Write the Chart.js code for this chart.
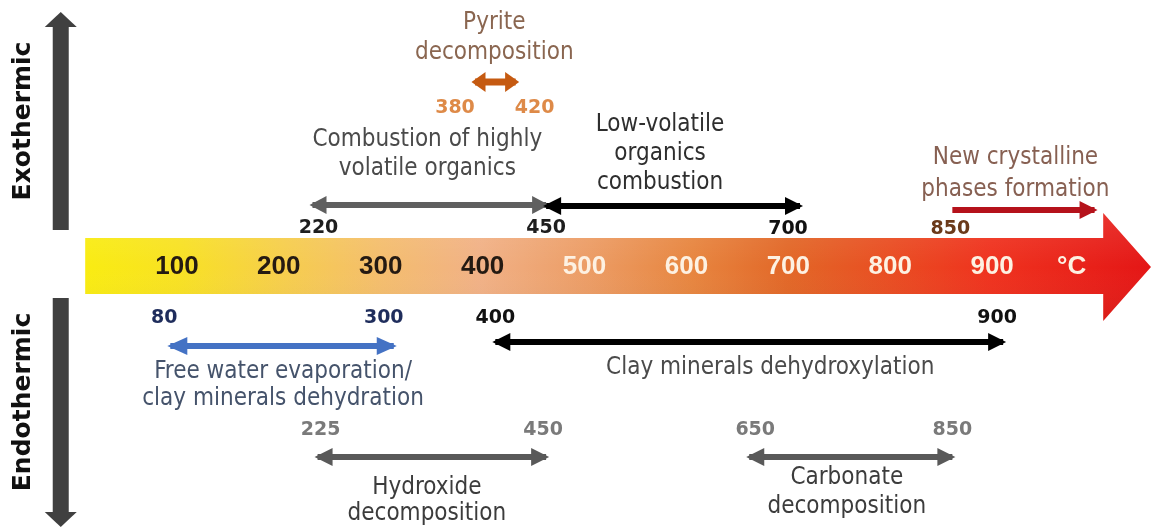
<!DOCTYPE html>
<html><head><meta charset="utf-8">
<script src="https://cdn.jsdelivr.net/npm/chart.js@4.4.1/dist/chart.umd.min.js"></script>
<style>html,body{margin:0;padding:0;background:#fff;}#wrap{width:1151px;height:529px;position:relative;}</style>
</head><body><div id="wrap"><canvas id="c"></canvas></div>
<script>
// ---------------- data ----------------
const scaleTicks = [100, 200, 300, 400, 500, 600, 700, 800, 900];
const scaleUnit = '°C';
const sideLabels = ['Exothermic', 'Endothermic'];
const eventNames = ['Pyrite decomposition', 'Combustion of highly volatile organics',
  'Low-volatile organics combustion', 'New crystalline phases formation',
  'Free water evaporation/ clay minerals dehydration', 'Clay minerals dehydroxylation',
  'Hydroxide decomposition', 'Carbonate decomposition'];
const eventLines = [['Pyrite', 'decomposition'], ['Combustion of highly', 'volatile organics'],
  ['Low-volatile', 'organics', 'combustion'], ['New crystalline', 'phases formation'],
  ['Free water evaporation/', 'clay minerals dehydration'], ['Clay minerals dehydroxylation'],
  ['Hydroxide', 'decomposition'], ['Carbonate', 'decomposition']];
const eventStart = [380, 220, 450, 850, 80, 400, 225, 650];
const eventEnd   = [420, 450, 700, 990, 300, 900, 450, 850];
const eventOpenEnded = [false, false, false, true, false, false, false, false];

// ---------------- layout / styles (not data) ----------------
const L = {
  rowY:    [82, 205, 206, 210, 346, 342, 457, 457],
  labelDy: [26, 23, 23, 19, -28, -24, -27, -27],
  startLabelDx: [-20, 6, 0, -2, -6, 0, 3, 6],
  endLabelDx:   [19, 0, -12, 0, -10, -6, -3, 0],
  textY:   [23, 140, 125, 158, 372, 368, 488, 478],
  textDx:  [-1, -2, -13, -8, 1, 21, -5, -4],
  lineH:   [30, 29, 29, 32, 27, 28, 26, 29],
  arrowColor: ['#c55a11', '#5f5f5f', '#000000', '#b5121b', '#4472c4', '#000000', '#595959', '#595959'],
  labelColor: ['#de8a48', '#1e1e1e', '#111111', '#6b3a1a', '#1f2d5c', '#111111', '#7a7a7a', '#7a7a7a'],
  textColor:  ['#8a6650', '#4a4a4a', '#2e2e2e', '#876052', '#45536b', '#4a4a4a', '#3c3c3c', '#3c3c3c'],
  shaft: [7, 6, 6, 6, 6, 6, 6, 6],
  headW: [10, 9, 9, 9, 9, 9, 9, 9],
  headL: [14, 17, 18, 18, 20, 18, 18, 18],
  band: { start: 10, bodyEnd: 1009, tip: 1056, top: 238, bottom: 294, headTop: 213, headBottom: 321, labelY: 267 },
  unitPos: 978,
  tickColors: ['#241a12', '#241a12', '#241a12', '#241a12', '#fdf1e2', '#fdf1e2', '#fdf1e2', '#fdf1e2', '#fdf1e2', '#fdf1e2'],
  side: { x: -14, shaftHalf: 8, headHalf: 16, headL: 15, textX: 23,
          up: { top: 12, bottom: 230, textY: 121 }, down: { top: 298, bottom: 527, textY: 402 } },
  descFont: '24px "DejaVu Sans Condensed", "DejaVu Sans", sans-serif',
  numFont: 'bold 19px "DejaVu Sans", sans-serif',
  tickFont: 'bold 26px "Liberation Sans", Arial, sans-serif',
  sideFont: 'bold 25px "DejaVu Sans", sans-serif'
};

const datasets = eventNames.map((name, i) => ({
  label: name,
  xAxisID: 'x2',
  yAxisID: 'y',
  data: [{ x: eventStart[i], y: L.rowY[i] }, { x: eventEnd[i], y: L.rowY[i] }],
  borderColor: L.arrowColor[i],
  borderWidth: L.shaft[i],
  borderCapStyle: 'butt',
  pointRadius: 0,
  fill: false,
  tension: 0
}));

function head(ctx, tipX, y, dir, len, half, color) {
  ctx.beginPath();
  ctx.moveTo(tipX, y);
  ctx.lineTo(tipX - dir * len, y - half);
  ctx.lineTo(tipX - dir * len, y + half);
  ctx.closePath();
  ctx.fillStyle = color;
  ctx.fill();
}

const diagramPlugin = {
  id: 'diagram',
  beforeDatasetsDraw(chart) {
    const ctx = chart.ctx, xs = chart.scales.x, ys = chart.scales.y, b = L.band;
    const x0 = xs.getPixelForValue(b.start), x1 = xs.getPixelForValue(b.bodyEnd), x2 = xs.getPixelForValue(b.tip);
    const yT = ys.getPixelForValue(b.top), yB = ys.getPixelForValue(b.bottom);
    const hT = ys.getPixelForValue(b.headTop), hB = ys.getPixelForValue(b.headBottom);
    const yM = ys.getPixelForValue(b.labelY);
    ctx.save();
    ctx.beginPath();
    ctx.moveTo(x0, yT); ctx.lineTo(x1, yT); ctx.lineTo(x1, hT); ctx.lineTo(x2, yM);
    ctx.lineTo(x1, hB); ctx.lineTo(x1, yB); ctx.lineTo(x0, yB); ctx.closePath();
    const g = ctx.createLinearGradient(x0, 0, x2, 0);
    g.addColorStop(0.00, '#f9ec12');
    g.addColorStop(0.09, '#f8e124');
    g.addColorStop(0.19, '#f6cd4e');
    g.addColorStop(0.28, '#f4bd6e');
    g.addColorStop(0.37, '#f1b186');
    g.addColorStop(0.47, '#ec9d66');
    g.addColorStop(0.57, '#e7853f');
    g.addColorStop(0.66, '#e26727');
    g.addColorStop(0.755, '#e94d22');
    g.addColorStop(0.85, '#ef321e');
    g.addColorStop(1.00, '#e41616');
    ctx.fillStyle = g; ctx.fill();
    const v = ctx.createLinearGradient(0, hT, 0, hB);
    v.addColorStop(0, 'rgba(255,255,255,0.10)');
    v.addColorStop(0.5, 'rgba(255,255,255,0)');
    v.addColorStop(1, 'rgba(0,0,0,0.06)');
    ctx.fillStyle = v; ctx.fill();
    // tick labels
    ctx.font = L.tickFont; ctx.textAlign = 'center'; ctx.textBaseline = 'middle';
    scaleTicks.forEach((t, i) => {
      ctx.fillStyle = L.tickColors[i];
      ctx.fillText(String(t), xs.getPixelForValue(t), yM);
    });
    ctx.fillStyle = L.tickColors[scaleTicks.length];
    ctx.fillText(scaleUnit, xs.getPixelForValue(L.unitPos), yM);
    // side arrows
    const s = L.side, sx = xs.getPixelForValue(s.x);
    ctx.fillStyle = '#404040';
    const up = s.up, dn = s.down;
    ctx.fillRect(sx - s.shaftHalf, ys.getPixelForValue(up.top) + s.headL - 1, s.shaftHalf * 2, ys.getPixelForValue(up.bottom) - ys.getPixelForValue(up.top) - s.headL + 1);
    ctx.beginPath(); ctx.moveTo(sx, ys.getPixelForValue(up.top));
    ctx.lineTo(sx - s.headHalf, ys.getPixelForValue(up.top) + s.headL); ctx.lineTo(sx + s.headHalf, ys.getPixelForValue(up.top) + s.headL); ctx.closePath(); ctx.fill();
    ctx.fillRect(sx - s.shaftHalf, ys.getPixelForValue(dn.top), s.shaftHalf * 2, ys.getPixelForValue(dn.bottom) - ys.getPixelForValue(dn.top) - s.headL + 1);
    ctx.beginPath(); ctx.moveTo(sx, ys.getPixelForValue(dn.bottom));
    ctx.lineTo(sx - s.headHalf, ys.getPixelForValue(dn.bottom) - s.headL); ctx.lineTo(sx + s.headHalf, ys.getPixelForValue(dn.bottom) - s.headL); ctx.closePath(); ctx.fill();
    ctx.font = L.sideFont; ctx.fillStyle = '#111';
    [[sideLabels[0], up.textY], [sideLabels[1], dn.textY]].forEach(([t, y]) => {
      ctx.save(); ctx.translate(s.textX, ys.getPixelForValue(y)); ctx.rotate(-Math.PI / 2);
      ctx.textAlign = 'center'; ctx.textBaseline = 'middle'; ctx.fillText(t, 0, 0); ctx.restore();
    });
    ctx.restore();
  },
  afterDatasetsDraw(chart) {
    const ctx = chart.ctx;
    ctx.save();
    const placed = [];
    chart.data.datasets.forEach((ds, i) => {
      const pts = chart.getDatasetMeta(i).data;
      const a = pts[0], b = pts[1];
      const ext = L.shaft[i] / 2;
      if (!eventOpenEnded[i]) head(ctx, a.x - ext, a.y, -1, L.headL[i], L.headW[i], L.arrowColor[i]);
      head(ctx, b.x + ext, b.y, 1, L.headL[i], L.headW[i], L.arrowColor[i]);
      // number labels
      ctx.font = L.numFont; ctx.textAlign = 'center'; ctx.textBaseline = 'middle';
      ctx.fillStyle = L.labelColor[i];
      const labs = eventOpenEnded[i] ? [[eventStart[i], a, L.startLabelDx[i]]]
        : [[eventStart[i], a, L.startLabelDx[i]], [eventEnd[i], b, L.endLabelDx[i]]];
      labs.forEach(([val, p, dx]) => {
        const ly = p.y + L.labelDy[i];
        if (placed.some(q => q.v === val && Math.abs(q.y - ly) < 8)) return;
        placed.push({ v: val, y: ly });
        ctx.fillText(String(val), p.x + dx, ly);
      });
      // description
      ctx.font = L.descFont; ctx.fillStyle = L.textColor[i];
      const mx = (a.x + b.x) / 2 + L.textDx[i];
      const y0 = chart.scales.y.getPixelForValue(L.textY[i]);
      eventLines[i].forEach((line, k) => ctx.fillText(line, mx, y0 + k * L.lineH[i]));
    });
    ctx.restore();
  }
};

new Chart(document.getElementById('c'), {
  type: 'line',
  data: { datasets },
  options: {
    responsive: true, maintainAspectRatio: false, animation: false, devicePixelRatio: 1,
    events: [],
    layout: { padding: 0 },
    plugins: { legend: { display: false }, tooltip: { enabled: false } },
    scales: {
      x:  { type: 'linear', display: false, min: -73.6, max: 1055.9 },
      x2: { type: 'linear', display: false, min: -87.7, max: 1045.6 },
      y:  { type: 'linear', display: false, min: 0, max: 529, reverse: true }
    }
  },
  plugins: [diagramPlugin]
});
</script></body></html>
